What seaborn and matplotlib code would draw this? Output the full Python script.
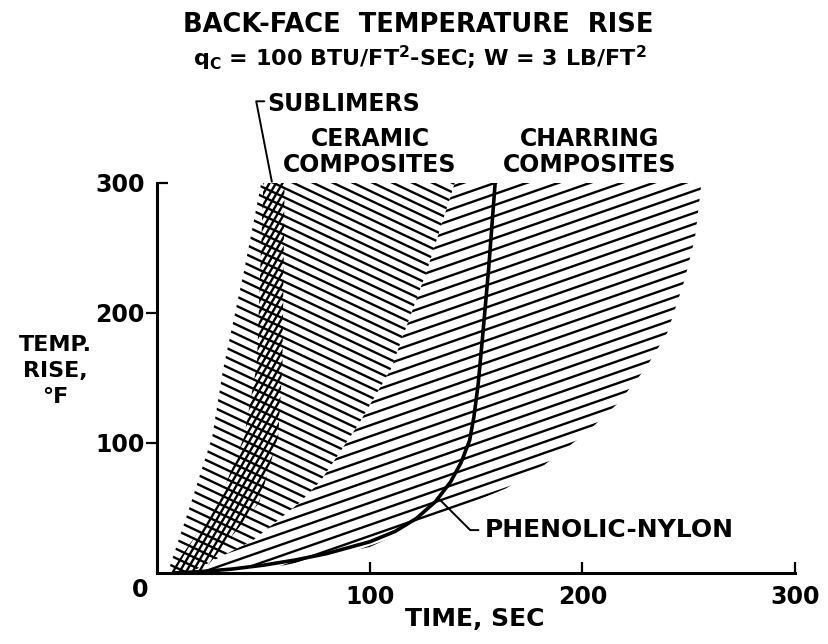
import numpy as np
import pandas as pd
import seaborn as sns
import matplotlib.pyplot as plt

# outlines of the shaded bands (time sec, temp rise F)
sub_left_t = [6, 11, 29, 41, 47, 50]
sub_left_y = [0, 12, 54, 105, 161, 300]
sub_right_t = [21, 27, 48, 57, 59, 60]
sub_right_y = [0, 12, 54, 105, 161, 300]

cer_left_t = [5, 16, 26, 31, 41, 49]
cer_left_y = [0, 54, 105, 156, 233, 300]

# chevron line between ceramic and charring bands
split_t = [15, 45, 67, 77, 95, 110, 127, 140]
split_y = [0, 25, 54, 71, 115, 157, 233, 300]

char_right_t = [256, 253, 248, 240, 230, 217, 202, 182, 164]
char_right_y = [300, 258, 225, 185, 158, 131, 108, 83, 65]
char_low_t = [130, 100, 60, 15]
char_low_y = [42, 20, 6, 0]

# phenolic-nylon curve
phen_t = [8, 20, 35, 50, 65, 80, 100, 112, 122, 131, 138, 143, 147, 149, 151, 153, 156, 159]
phen_y = [0, 1, 3, 6, 10, 15, 24, 32, 42, 55, 70, 85, 102, 120, 145, 180, 235, 300]

x_ticks = [100, 200, 300]
y_ticks = [100, 200]
y_top = [300]

sns.set_style("ticks")
plt.rcParams["font.family"] = ["DejaVu Sans"]
plt.rcParams["font.weight"] = "bold"
for key in ["text.color", "axes.edgecolor", "xtick.color", "ytick.color",
            "axes.labelcolor"]:
    plt.rcParams[key] = "black"

fig = plt.figure(figsize=(8.29, 6.44), dpi=100)
ax = fig.add_axes([157 / 829, 71 / 644, 638 / 829, 390 / 644])


def hatch(ax, xs, ys, slope, step, lw=1.7):
    # fill an invisible polygon and clip parallel lines to it
    patch = ax.fill(xs, ys, facecolor="none", edgecolor="none")[0]
    c = np.array(ys) - slope * np.array(xs)
    t = np.array([-50.0, 350.0])
    for ci in np.arange(c.min(), c.max() + step, step):
        ln, = ax.plot(t, slope * t + ci, color="black", lw=lw, solid_capstyle="butt")
        ln.set_clip_path(patch)


# ceramic composites
hatch(ax, cer_left_t + split_t[::-1], cer_left_y + split_y[::-1], -0.77, 7.2)
# charring composites
hatch(ax, split_t + char_right_t + char_low_t,
      split_y + char_right_y + char_low_y, 0.57, 8.5)
# sublimers (cross lines over the ceramic hatch)
hatch(ax, sub_left_t + sub_right_t[::-1], sub_left_y + sub_right_y[::-1], 2.8, 8.6)

df = pd.DataFrame({"t": phen_t, "y": phen_y})
sns.lineplot(data=df, x="t", y="y", color="black", lw=2.6, sort=False, ax=ax)

ax.set_xlim(0, 300)
ax.set_ylim(0, 300)
sns.despine(ax=ax)
for s in ["left", "bottom"]:
    ax.spines[s].set_linewidth(2.2)

ax.set_xticks(x_ticks)
ax.set_xticklabels([str(v) for v in x_ticks])
ax.set_yticks(y_ticks)
ax.set_yticklabels([str(v) for v in y_ticks])
ax.set_yticks(y_top, minor=True)
ax.set_yticklabels([str(v) for v in y_top], minor=True)
ax.tick_params(axis="x", direction="in", length=8, width=1.6, labelsize=17, pad=9)
ax.tick_params(axis="y", which="major", direction="out", length=8, width=1.6,
               labelsize=17, pad=1)
ax.tick_params(axis="y", which="minor", direction="in", length=8, width=1.6,
               labelsize=17, pad=9)
ax.set_xlabel("")
ax.set_ylabel("")
ax.text(-8, -13, "0", fontsize=17, ha="center", va="center", clip_on=False)

fig.text(418 / 829, 1 - 25 / 644, "BACK-FACE  TEMPERATURE  RISE",
         fontsize=18.5, ha="center", va="center")
fig.text(420 / 829, 1 - 58 / 644,
         r"$\mathbf{q_C}$ = 100 BTU/FT$^{\mathbf{2}}$-SEC; W = 3 LB/FT$^{\mathbf{2}}$",
         fontsize=16, ha="center", va="center")
fig.text(55 / 829, 1 - 371 / 644, "TEMP.\nRISE,\n°F", fontsize=16,
         ha="center", va="center", linespacing=1.35)
fig.text(475 / 829, 1 - 619 / 644, "TIME, SEC", fontsize=18, ha="center", va="center")
fig.text(370 / 829, 1 - 152 / 644, "CERAMIC\nCOMPOSITES", fontsize=17,
         ha="center", va="center", linespacing=1.1)
fig.text(590 / 829, 1 - 152 / 644, "CHARRING\nCOMPOSITES", fontsize=17,
         ha="center", va="center", linespacing=1.1)

ax.annotate("SUBLIMERS", xy=(54, 301), xytext=(52, 361), fontsize=17,
            ha="left", va="center", annotation_clip=False,
            arrowprops=dict(arrowstyle="-", color="black", lw=1.4, relpos=(0, 0.6),
                            shrinkA=0, shrinkB=0,
                            connectionstyle="angle,angleA=0,angleB=101,rad=0"))
ax.annotate("PHENOLIC-NYLON", xy=(132, 58), xytext=(154, 33), fontsize=18,
            ha="left", va="center",
            arrowprops=dict(arrowstyle="-", color="black", lw=1.4, relpos=(0, 0.5),
                            shrinkA=2, shrinkB=0,
                            connectionstyle="angle,angleA=0,angleB=135,rad=0"))

fig.savefig("out.png", dpi=100)
